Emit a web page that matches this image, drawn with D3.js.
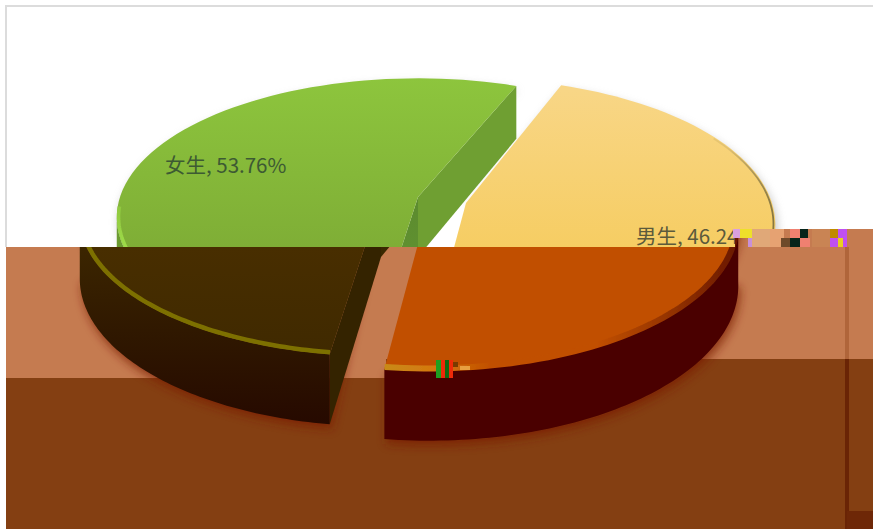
<!DOCTYPE html>
<html>
<head>
<meta charset="utf-8">
<style>
html, body { margin: 0; padding: 0; background: #fff; overflow: hidden; }
svg { display: block; }
text { font-family: "Noto Sans CJK SC", "Noto Sans", sans-serif; }
</style>
<script src="https://cdn.jsdelivr.net/npm/d3@7"></script>
</head>
<body>
<svg width="873" height="529"></svg>
<script>
// chart values
var categories = ["男生", "女生"];
var shares = [46.24, 53.76];

// exploded centre and radii of each slice, same order as categories
var centerX = [466, 418];
var centerY = [203, 197];
var radiusX = [306, 298];
var radiusY = [143, 136];
// small per slice turn, the original perspective is not quite regular
var sliceTurn = [-1.3 * Math.PI / 180, 0];

// 3d look
var tilt = 0.146, depth = 60, firstAngle = 22 * Math.PI / 180;
// the picture is damaged: everything under the tear is shifted and recoloured
var tearShift = -37, tearY = 247, tearStepX = 735, tearStepY = 229;

var svg = d3.select("svg");
var defs = svg.append("defs");

var arcs = d3.pie().sort(null).value(function(d) { return d; })
    .startAngle(firstAngle).endAngle(firstAngle + 2 * Math.PI)(shares);

// perspective projection of a point on the pie, a = clockwise from north
function project(i, a, r, drop) {
    var u = Math.sin(a + sliceTurn[i]) * r, v = Math.cos(a + sliceTurn[i]) * r;
    var w = 1 + tilt * v;
    return [
        centerX[i] + radiusX[i] * u / w,
        centerY[i] - radiusY[i] * v / w + (drop ? depth / w : 0)
    ];
}
function arcPoints(i, a0, a1, drop) {
    var n = 80;
    return d3.range(n + 1).map(function(k) {
        return project(i, a0 + (a1 - a0) * k / n, 1, drop);
    });
}
var openLine = d3.line();
var closedLine = d3.line().curve(d3.curveLinearClosed);

function gradient(id, stops, x1, y1, x2, y2) {
    var g = defs.append("linearGradient").attr("id", id)
        .attr("gradientUnits", "userSpaceOnUse")
        .attr("x1", x1).attr("y1", y1).attr("x2", x2).attr("y2", y2);
    stops.forEach(function(s) {
        g.append("stop").attr("offset", s[0]).attr("stop-color", s[1]);
    });
    return "url(#" + id + ")";
}

defs.append("filter").attr("id", "blur").attr("x", "-10%").attr("y", "-10%")
    .attr("width", "120%").attr("height", "120%")
    .append("feGaussianBlur").attr("stdDeviation", 5);
defs.append("filter").attr("id", "soft")
    .append("feGaussianBlur").attr("stdDeviation", 0.7);

defs.append("clipPath").attr("id", "upperClip").append("path")
    .attr("d", closedLine([[0, 0], [873, 0], [873, tearStepY], [tearStepX, tearStepY],
        [tearStepX, tearY], [0, tearY]]));
defs.append("clipPath").attr("id", "lowerClip").append("path")
    .attr("d", closedLine([[6, tearY], [tearStepX, tearY], [tearStepX, tearStepY], [873, tearStepY],
        [873, 529], [6, 529]]));

var upperLook = {
    shadow: "#9a9a9a", shadowOpacity: 0.55,
    top: [gradient("u0t", [[0, "#f8d686"], [1, "#f6cd63"]], 0, 90, 0, 247),
          gradient("u1t", [[0, "#8dc53d"], [1, "#7fae36"]], 0, 78, 0, 247)],
    wall: ["#8c7c40", "#6c9b30"],
    rim: [gradient("u0r", [[0, "#f7d375"], [0.45, "#e0c070"], [1, "#857540"]], 690, 0, 775, 0),
          gradient("u1r", [[0, "#9edb48"], [1, "#8fc73f"]], 0, 247, 0, 205)],
    rimWidth: [1.8, 3.5],
    faceBack: gradient("u1b", [[0, "#567f2c"], [1, "#5f9030"]], 0, 85, 0, 247),
    faceFront: "#6f9f32"
};
var lowerLook = {
    shadow: "#7a1d00", shadowOpacity: 0.7,
    top: [gradient("l0t", [[0, "#c14f00"], [1, "#c14f00"]], 0, 247, 0, 370),
          gradient("l1t", [[0, "#482e00"], [1, "#3f2900"]], 0, 247, 0, 360)],
    wall: [gradient("l0w", [[0, "#4a0000"], [1, "#4a0000"]], 0, 300, 0, 440),
           gradient("l1w", [[0, "#3b2500"], [0.5, "#2f1700"], [1, "#260900"]], 0, 250, 0, 425)],
    rim: [gradient("l0r", [[0, "#c88a18"], [0.14, "#d5780f"], [0.3, "#c14f00"], [0.6, "#c14f00"], [1, "#6a1800"]], 422, 0, 775, 0), "#7d7000"],
    rimWidth: [6, 4.5],
    faceBack: "#342300",
    faceFront: "#3a2800"
};

function sliceShape(i, d) {
    return [[centerX[i], centerY[i]]].concat(arcPoints(i, d.startAngle, d.endAngle, false));
}
// front of the rim as seen from the viewer
function frontRange(d) {
    var a0 = Math.max(d.startAngle, Math.acos(-tilt));
    var a1 = Math.min(d.endAngle, 2 * Math.PI - Math.acos(-tilt));
    return [a0, a1];
}

function drawPie(layer, look) {
    // soft shadow first
    var shadow = layer.append("g").attr("filter", "url(#blur)").attr("opacity", look.shadowOpacity);
    arcs.forEach(function(d, i) {
        var range = frontRange(d);
        shadow.append("path").attr("fill", look.shadow)
            .attr("d", closedLine(sliceShape(i, d)
                .concat(arcPoints(i, range[1], range[0], true))
                .map(function(p) { return [p[0] + 2, p[1] + 5]; })));
    });
    arcs.forEach(function(d, i) {
        var slice = layer.append("g");
        var range = frontRange(d);
        var corner0 = project(i, d.startAngle, 1, false), corner1 = project(i, d.endAngle, 1, false);
        var corner0Low = project(i, d.startAngle, 1, true), corner1Low = project(i, d.endAngle, 1, true);
        var c = [centerX[i], centerY[i]], cLow = [centerX[i], centerY[i] + depth];

        if (i === 1) {
            // the two cut faces of the exploded slice
            slice.append("path").attr("fill", look.faceBack)
                .attr("d", closedLine([c, corner0, corner0Low, cLow]));
            slice.append("path").attr("fill", look.faceFront)
                .attr("d", closedLine([c, corner1, corner1Low, cLow]));
        }
        // outer wall
        slice.append("path").attr("fill", look.wall[i])
            .attr("d", closedLine(arcPoints(i, range[0], range[1], false)
                .concat(arcPoints(i, range[1], range[0], true))));
        // top surface
        slice.append("path").attr("fill", look.top[i]).attr("d", closedLine(sliceShape(i, d)));
        // bevel along the rim
        var rimFrom = i === 0 ? 62 * Math.PI / 180 : range[0];
        var rimTo = i === 0 ? range[1] : 266 * Math.PI / 180;
        slice.append("path").attr("fill", "none").attr("stroke", look.rim[i])
            .attr("stroke-width", look.rimWidth[i]).attr("filter", "url(#soft)")
            .attr("d", openLine(arcPoints(i, rimFrom, rimTo, false).map(function(p) {
                return [p[0] + (c[0] - p[0]) * 0.006, p[1] + (c[1] - p[1]) * 0.012];
            })));
    });
}

// background bands left by the damage
var bandLight = "#c57b50", bandDark = "#843f12";
svg.append("rect").attr("width", 873).attr("height", 529).attr("fill", "#fff");
svg.append("path").attr("fill", "none").attr("stroke", "#dcdcdc").attr("stroke-width", 2)
    .attr("d", openLine([[6, tearY], [6, 6], [873, 6]]));

var lowerBack = svg.append("g");
lowerBack.append("path").attr("fill", bandLight)
    .attr("d", closedLine([[6, tearY], [tearStepX, tearY], [tearStepX, tearStepY], [873, tearStepY],
        [873, 529], [6, 529]]));
lowerBack.append("path").attr("fill", bandDark)
    .attr("d", closedLine([[6, 378], [386, 378], [386, 359], [873, 359], [873, 529], [6, 529]]));

var upper = svg.append("g").attr("clip-path", "url(#upperClip)").append("g");
drawPie(upper, upperLook);

// labels sit on the upper layer
var labelX = [636, 165], labelY = [244, 173];
upper.selectAll("text").data(categories).enter().append("text")
    .attr("x", function(d, i) { return labelX[i]; })
    .attr("y", function(d, i) { return labelY[i]; })
    .attr("font-size", 20.5)
    .attr("fill", function(d, i) { return i === 0 ? "#5c5a3c" : "#3d5a33"; })
    .text(function(d, i) { return d + ", " + shares[i].toFixed(2) + "%"; });

var lower = svg.append("g").attr("clip-path", "url(#lowerClip)")
    .append("g").attr("transform", "translate(" + tearShift + ",0)");
drawPie(lower, lowerLook);

// damaged blocks
var glitchX = [733, 740, 748, 752, 770, 781, 790, 800, 790, 800, 812, 830, 830, 838, 838, 844, 436, 441, 445, 449, 453, 460];
var glitchY = [229, 229, 238, 229, 229, 238, 229, 229, 238, 238, 229, 229, 238, 229, 238, 229, 360, 360, 360, 360, 362, 366];
var glitchW = [7, 12, 4, 18, 14, 9, 10, 8, 10, 10, 18, 8, 8, 6, 5, 3, 5, 4, 4, 4, 5, 10];
var glitchH = [9, 9, 9, 18, 18, 9, 9, 9, 9, 9, 18, 9, 9, 18, 9, 18, 18, 18, 18, 18, 5, 4];
var glitchColor = ["#d9a0e0", "#eee02a", "#c890d8", "#e0a878", "#e6a272", "#6e4a2a", "#ef8070", "#06241a",
    "#06241a", "#ef8070", "#c98454", "#c08a00", "#c050f0", "#c050f0", "#e8d020", "#c050f0",
    "#1ea020", "#ee2a08", "#0f6a10", "#ee2a08", "#7a3a00", "#e8a040"];
svg.append("g").selectAll("rect").data(glitchX).enter().append("rect")
    .attr("x", function(d) { return d; })
    .attr("y", function(d, i) { return glitchY[i]; })
    .attr("width", function(d, i) { return glitchW[i]; })
    .attr("height", function(d, i) { return glitchH[i]; })
    .attr("fill", function(d, i) { return glitchColor[i]; });

// dark column and corner at the right edge
svg.append("rect").attr("x", 845).attr("y", 247).attr("width", 4).attr("height", 112).attr("fill", "#b0653a");
svg.append("rect").attr("x", 845).attr("y", 359).attr("width", 4).attr("height", 170).attr("fill", "#6a2405");
svg.append("rect").attr("x", 847).attr("y", 511).attr("width", 26).attr("height", 18).attr("fill", "#6e2707");
</script>
</body>
</html>
